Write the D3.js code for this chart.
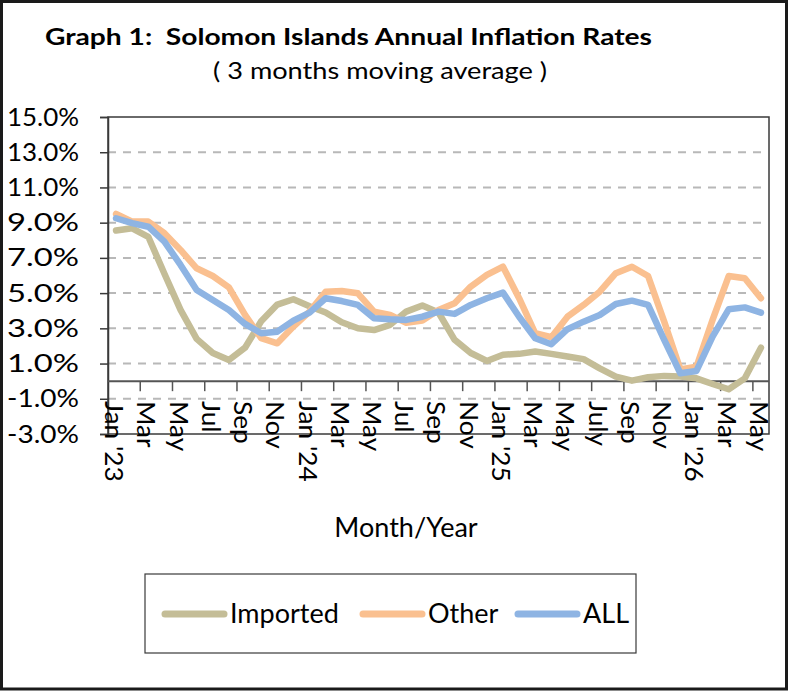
<!DOCTYPE html>
<html>
<head>
<meta charset="utf-8">
<script src="https://cdn.jsdelivr.net/npm/d3@7"></script>
<style>
  html, body { margin: 0; padding: 0; background: #fff; }
  svg text { font-family: Lato, "Open Sans", sans-serif; fill: #000; }
</style>
</head>
<body>
<div id="chart"></div>
<script>
// months Jan 2023 .. May 2026
var months = [
  "Jan '23", "Feb 23", "Mar 23", "Apr 23", "May 23", "Jun 23", "Jul 23", "Aug 23", "Sep 23", "Oct 23", "Nov 23", "Dec 23",
  "Jan '24", "Feb 24", "Mar 24", "Apr 24", "May 24", "Jun 24", "Jul 24", "Aug 24", "Sep 24", "Oct 24", "Nov 24", "Dec 24",
  "Jan '25", "Feb 25", "Mar 25", "Apr 25", "May 25", "Jun 25", "Jul 25", "Aug 25", "Sep 25", "Oct 25", "Nov 25", "Dec 25",
  "Jan '26", "Feb 26", "Mar 26", "Apr 26", "May 26"
];
// every second month carries a label
var tickLabels = [
  "Jan '23", "Mar", "May", "Jul", "Sep", "Nov",
  "Jan '24", "Mar", "May", "Jul", "Sep", "Nov",
  "Jan '25", "Mar", "May", "July", "Sep", "Nov",
  "Jan '26", "Mar", "May"
];
var imported = [8.55, 8.68, 8.2, 6.1, 4.05, 2.4, 1.6, 1.2, 1.9, 3.4, 4.35, 4.65,
  4.25, 3.9, 3.35, 3.0, 2.9, 3.2, 3.95, 4.3, 3.9, 2.35, 1.6, 1.15,
  1.5, 1.55, 1.68, 1.55, 1.4, 1.25, 0.73, 0.26, 0.03, 0.22, 0.3, 0.26,
  0.16, -0.16, -0.46, 0.16, 1.9];
var other = [9.5, 9.06, 9.06, 8.4, 7.45, 6.41, 5.97, 5.33, 3.76, 2.44, 2.15, 3.1,
  3.95, 5.08, 5.12, 4.99, 3.95, 3.76, 3.32, 3.44, 4.04, 4.42, 5.37, 6.03,
  6.5, 4.71, 2.72, 2.5, 3.66, 4.33, 5.08, 6.13, 6.5, 5.97, 3.38, 0.67,
  0.82, 3.48, 5.97, 5.84, 4.71];
var allItems = [9.25, 8.97, 8.77, 7.92, 6.6, 5.18, 4.61, 4.04, 3.25, 2.72, 2.81, 3.44,
  3.89, 4.71, 4.55, 4.33, 3.57, 3.51, 3.48, 3.66, 3.95, 3.82, 4.33, 4.71,
  5.03, 3.66, 2.44, 2.1, 2.95, 3.38, 3.76, 4.38, 4.57, 4.33, 2.34, 0.45,
  0.58, 2.53, 4.08, 4.19, 3.89];
var seriesNames = ["Imported", "Other", "ALL"];
var seriesColors = ["#c4bd97", "#fac090", "#8eb4e3"];
var yTicks = [-3, -1, 1, 3, 5, 7, 9, 11, 13, 15];

var width = 790, height = 691;
var plotLeft = 108, plotRight = 769, plotTop = 117, plotBottom = 434;

var svg = d3.select("#chart").append("svg")
  .attr("width", width)
  .attr("height", height);

svg.append("rect")
  .attr("x", 1.5).attr("y", 1.5)
  .attr("width", 785).attr("height", 687.5)
  .attr("fill", "#fff")
  .attr("stroke", "#1a1a1a")
  .attr("stroke-width", 3);

var x = d3.scaleBand().domain(months).range([plotLeft, plotRight]).padding(0);
var y = d3.scaleLinear().domain([-3, 15]).range([plotBottom, plotTop]);
var cx = function(m) { return x(m) + x.bandwidth() / 2; };

// titles
svg.append("text")
  .attr("x", 45).attr("y", 45)
  .attr("font-size", 23).attr("font-weight", "bold")
  .attr("textLength", 607).attr("lengthAdjust", "spacingAndGlyphs")
  .style("white-space", "pre")
  .text("Graph 1:  Solomon Islands Annual Inflation Rates");

svg.append("text")
  .attr("x", 213).attr("y", 79)
  .attr("font-size", 23)
  .attr("textLength", 334).attr("lengthAdjust", "spacingAndGlyphs")
  .style("white-space", "pre")
  .text("( 3 months moving average )");

// gridlines
svg.append("g").selectAll("line")
  .data(yTicks.filter(function(d) { return d > -3 && d < 15; }))
  .enter().append("line")
  .attr("x1", plotLeft).attr("x2", plotRight - 4)
  .attr("y1", function(d) { return y(d); })
  .attr("y2", function(d) { return y(d); })
  .attr("stroke", "#b8b8b8")
  .attr("stroke-width", 2)
  .attr("stroke-dasharray", "8,7");

// plot frame
svg.append("rect")
  .attr("x", plotLeft).attr("y", plotTop)
  .attr("width", plotRight - plotLeft).attr("height", plotBottom - plotTop)
  .attr("fill", "none")
  .attr("stroke", "#3a3a3a")
  .attr("stroke-width", 1.5);

// y axis
var yAxis = svg.append("g")
  .attr("transform", "translate(" + plotLeft + ",0)")
  .call(d3.axisLeft(y).tickValues(yTicks).tickSize(8).tickPadding(21)
    .tickFormat(function(d) { return d.toFixed(1) + "%"; }));
yAxis.attr("font-size", null).attr("font-family", null);
yAxis.select(".domain").attr("stroke", "#3a3a3a").attr("stroke-width", 1.5);
yAxis.selectAll(".tick line").attr("stroke", "#3a3a3a").attr("stroke-width", 1.5);
yAxis.selectAll(".tick text")
  .style("font-size", "25px")
  .attr("textLength", 72).attr("lengthAdjust", "spacingAndGlyphs")
  .attr("fill", "#000");

// x axis at zero
svg.append("line")
  .attr("x1", plotLeft).attr("x2", plotRight)
  .attr("y1", y(0)).attr("y2", y(0))
  .attr("stroke", "#555")
  .attr("stroke-width", 2);

var tickMonths = months.filter(function(d, i) { return i % 2 === 0; });
svg.append("g").selectAll("line")
  .data(tickMonths.slice(1))
  .enter().append("line")
  .attr("x1", function(d) { return x(d); })
  .attr("x2", function(d) { return x(d); })
  .attr("y1", y(0)).attr("y2", y(0) + 10)
  .attr("stroke", "#555")
  .attr("stroke-width", 1.5);

svg.append("g").selectAll("text")
  .data(tickMonths)
  .enter().append("text")
  .attr("transform", function(d) {
    return "translate(" + (cx(d) - 2) + ",401) scale(1,1.05) rotate(90)";
  })
  .attr("dy", "0.36em")
  .style("font-size", "25px")
  .text(function(d, i) { return tickLabels[i]; });

svg.append("text")
  .attr("x", 406).attr("y", 537)
  .attr("text-anchor", "middle")
  .style("font-size", "27px")
  .text("Month/Year");

// series
var seriesData = [imported, other, allItems];
var line = d3.line()
  .x(function(d, i) { return cx(months[i]); })
  .y(function(d) { return y(d); });

svg.append("g").selectAll("path")
  .data(seriesData)
  .enter().append("path")
  .attr("d", function(d) { return line(d); })
  .attr("fill", "none")
  .attr("stroke", function(d, i) { return seriesColors[i]; })
  .attr("stroke-width", 6.5)
  .attr("stroke-linejoin", "round")
  .attr("stroke-linecap", "round");

// legend
var legend = svg.append("g");
legend.append("rect")
  .attr("x", 145).attr("y", 574)
  .attr("width", 491).attr("height", 79)
  .attr("fill", "#fff")
  .attr("stroke", "#3a3a3a")
  .attr("stroke-width", 1.2);

var legendX = [165, 363, 518];
seriesNames.forEach(function(name, i) {
  legend.append("line")
    .attr("x1", legendX[i]).attr("x2", legendX[i] + 59)
    .attr("y1", 614).attr("y2", 614)
    .attr("stroke", seriesColors[i])
    .attr("stroke-width", 7)
    .attr("stroke-linecap", "round");
  legend.append("text")
    .attr("x", legendX[i] + 65).attr("y", 623)
    .style("font-size", "27px")
    .text(name);
});
</script>
</body>
</html>
